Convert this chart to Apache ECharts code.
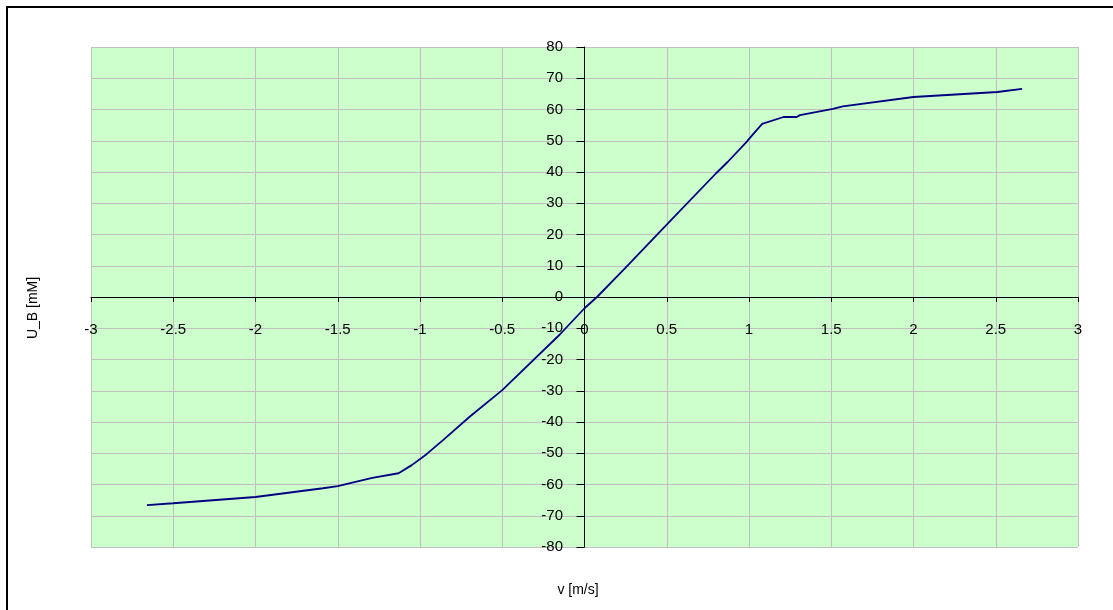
<!DOCTYPE html>
<html>
<head>
<meta charset="utf-8">
<script src="https://cdn.jsdelivr.net/npm/echarts@6/dist/echarts.min.js"></script>
<style>
html,body{margin:0;padding:0;background:#fff;}
#c{width:1113px;height:610px;}
</style>
</head>
<body>
<div id="c"></div>
<script>
var vValues = [-2.66, -2.5, -2.0, -1.59, -1.5, -1.29, -1.13, -1.05, -0.96, -0.86, -0.7, -0.5, -0.15, 0, 0.076, 0.25, 0.51, 0.8, 0.87, 0.98, 1.02, 1.08, 1.21, 1.29, 1.31, 1.51, 1.57, 2.0, 2.51, 2.66];
var uValues = [-66.6, -66, -64, -61.2, -60.5, -57.9, -56.4, -53.8, -50.3, -45.8, -38.4, -29.8, -12, -3.6, 0, 9.4, 23.7, 39.6, 43.2, 49.3, 51.8, 55.4, 57.6, 57.6, 58.2, 60.2, 61, 64, 65.6, 66.6];
var xAxisName = 'v [m/s]';
var yAxisName = 'U_B [mM]';

var data = vValues.map(function (v, i) { return [v, uValues[i]]; });
var chart = echarts.init(document.getElementById('c'));
var font = 'Liberation Sans, Arial, sans-serif';
chart.setOption({
  animation: false,
  backgroundColor: '#ffffff',
  grid: { left: 91, right: 35, top: 47, bottom: 63, show: true, backgroundColor: '#ccffcc', borderWidth: 0 },
  xAxis: {
    type: 'value', min: -3, max: 3, interval: 0.5,
    axisLine: { onZero: true, lineStyle: { color: '#000', width: 1 } },
    axisTick: { show: true, length: 5, lineStyle: { color: '#000' } },
    axisLabel: { color: '#000', fontSize: 15, fontFamily: font, margin: -225 },
    splitLine: { show: true, lineStyle: { color: '#c0c0c0', width: 1 } }
  },
  yAxis: {
    type: 'value', min: -80, max: 80, interval: 10,
    axisLine: { onZero: true, lineStyle: { color: '#000', width: 1 } },
    axisTick: { show: true, length: 8, lineStyle: { color: '#000' } },
    axisLabel: { color: '#000', fontSize: 15, fontFamily: font, margin: -472 },
    splitLine: { show: true, lineStyle: { color: '#c0c0c0', width: 1 } }
  },
  series: [{
    type: 'line', data: data, showSymbol: false, smooth: false,
    lineStyle: { color: '#000080', width: 1.8 }, itemStyle: { color: '#000080' }
  }],
  graphic: [
    { type: 'rect', shape: { x: 7, y: 7, width: 1120, height: 620 }, style: { fill: 'none', stroke: '#000', lineWidth: 2 }, silent: true },
    { type: 'text', x: 578, y: 590, style: { text: xAxisName, fill: '#000', font: '14px ' + font, textAlign: 'center', textVerticalAlign: 'middle' } },
    { type: 'text', x: 33, y: 308, rotation: Math.PI / 2, style: { text: yAxisName, fill: '#000', font: '14px ' + font, textAlign: 'center', textVerticalAlign: 'middle' } }
  ]
});
</script>
</body>
</html>
